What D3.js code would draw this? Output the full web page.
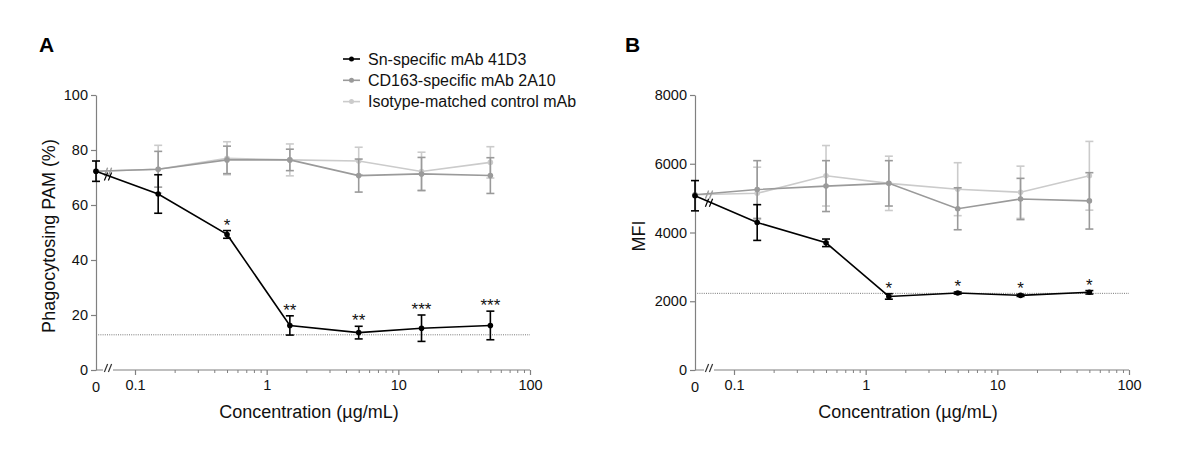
<!DOCTYPE html>
<html>
<head>
<meta charset="utf-8">
<script src="https://cdn.jsdelivr.net/npm/d3@7"></script>
<style>
  body { margin: 0; background: #fff; }
  text { font-family: "Liberation Sans", Arial, sans-serif; }
</style>
</head>
<body>
<div id="app"></div>
<script>
// concentrations (µg/mL); 0 is drawn at the broken start of the axis
const conc = [0, 0.15, 0.5, 1.5, 5, 15, 50];
const seriesNames = ['Sn-specific mAb 41D3', 'CD163-specific mAb 2A10', 'Isotype-matched control mAb'];
const xTickLabels = ['0.1', '1', '10', '100'];

// panel A: phagocytosing PAM (%)
const snA = [72.3, 64, 49.3, 16.2, 13.6, 15.2, 16.2];
const snAErr = [3.7, 7, 1.4, 3.5, 2.3, 4.8, 5.2];
const cdA = [72.3, 73, 76.4, 76.4, 70.7, 71.3, 70.7];
const cdAErr = [0, 6.5, 5, 3.9, 6, 6, 6.5];
const isoA = [72.3, 73, 77, 76.4, 76, 72.2, 75.5];
const isoAErr = [0, 8.7, 6, 5.8, 5, 7, 5.7];
const starsA = ['', '', '*', '**', '**', '***', '***'];
const refA = 12.8;
const yTicksA = [0, 20, 40, 60, 80, 100];

// panel B: MFI
const snB = [5070, 4290, 3700, 2140, 2240, 2170, 2260];
const snBErr = [440, 520, 110, 80, 30, 30, 50];
const cdB = [5100, 5250, 5350, 5430, 4690, 4975, 4920];
const cdBErr = [0, 840, 740, 660, 610, 600, 820];
const isoB = [5100, 5140, 5650, 5430, 5260, 5170, 5650];
const isoBErr = [0, 760, 880, 790, 770, 760, 1000];
const starsB = ['', '', '', '*', '*', '*', '*'];
const refB = 2230;
const yTicksB = [0, 2000, 4000, 6000, 8000];

const colors = ['#000000', '#9a9a9a', '#cbcbcb'];
const axisColor = '#808080';
const font = '"Liberation Sans", Arial, sans-serif';

const svg = d3.select('#app').append('svg')
    .attr('width', 1200).attr('height', 458);

function panel(opt) {
    const left = opt.left, top = 95, bottom = 370;
    const right = left + 434;
    const g = svg.append('g');

    const x = d3.scaleLog().domain([0.1, 100]).range([left + 39, right]);
    const y = d3.scaleLinear().domain([0, opt.yMax]).range([bottom, top]);
    const xp = c => c === 0 ? left : x(c);

    // dotted reference line
    g.append('line')
        .attr('x1', left).attr('x2', right)
        .attr('y1', y(opt.ref)).attr('y2', y(opt.ref))
        .attr('stroke', '#555').attr('stroke-width', 0.8)
        .attr('stroke-dasharray', '1,1.2');

    // y axis
    const yAxis = g.append('g')
        .attr('transform', `translate(${left},0)`)
        .call(d3.axisLeft(y).tickValues(opt.yTicks).tickSize(5).tickPadding(3)
            .tickSizeOuter(0).tickFormat(d3.format('d')));
    yAxis.select('.domain').attr('stroke', axisColor).attr('stroke-width', 1.2);
    yAxis.selectAll('.tick line').attr('stroke', axisColor).attr('stroke-width', 1.2);
    yAxis.selectAll('.tick text').attr('font-size', 14.5).attr('fill', '#111')
        .attr('font-family', font);

    // x axis: major + minor ticks on the log part
    g.append('line')
        .attr('x1', left).attr('x2', right)
        .attr('y1', bottom).attr('y2', bottom)
        .attr('stroke', axisColor).attr('stroke-width', 1.2);
    const minor = x.ticks().filter(v => !xTickLabels.includes(String(+v)));
    const xMinor = g.append('g')
        .attr('transform', `translate(0,${bottom})`)
        .call(d3.axisBottom(x).tickValues(minor).tickSize(3).tickFormat(''));
    xMinor.select('.domain').remove();
    xMinor.selectAll('.tick line').attr('stroke', axisColor);
    const xMajor = g.append('g')
        .attr('transform', `translate(0,${bottom})`)
        .call(d3.axisBottom(x).tickValues(xTickLabels.map(Number)).tickSize(5).tickPadding(5)
            .tickFormat((d, i) => xTickLabels[i]));
    xMajor.select('.domain').remove();
    xMajor.selectAll('.tick line').attr('stroke', axisColor).attr('stroke-width', 1.2);
    xMajor.selectAll('.tick text').attr('font-size', 14.5).attr('fill', '#111')
        .attr('font-family', font);
    g.append('text').attr('x', left).attr('y', bottom + 22)
        .attr('text-anchor', 'middle').attr('font-size', 14.5).attr('fill', '#111').text('0');

    // axis break marks
    const breakX = left + opt.breakDx;
    const slash = (cx, cy, col) => {
        [-2, 2].forEach(d => {
            g.append('line')
                .attr('x1', cx + d - 1.6).attr('y1', cy + 4)
                .attr('x2', cx + d + 1.6).attr('y2', cy - 4)
                .attr('stroke', col).attr('stroke-width', 1.2);
        });
    };
    g.append('rect').attr('x', breakX - 5).attr('y', bottom - 1.5).attr('width', 10).attr('height', 3).attr('fill', '#fff');
    slash(breakX, bottom - 2, '#333');

    // series, drawn light to dark
    const series = [
        { v: opt.iso, e: opt.isoErr, c: colors[2] },
        { v: opt.cd, e: opt.cdErr, c: colors[1] },
        { v: opt.sn, e: opt.snErr, c: colors[0] }
    ];
    const line = d3.line().x((d, i) => xp(conc[i])).y(d => y(d));
    series.forEach(s => {
        const sg = g.append('g');
        // error bars
        s.v.forEach((v, i) => {
            if (!s.e[i]) return;
            const cx = xp(conc[i]);
            const y1 = y(v + s.e[i]), y2 = y(v - s.e[i]);
            sg.append('line').attr('x1', cx).attr('x2', cx).attr('y1', y1).attr('y2', y2)
                .attr('stroke', s.c).attr('stroke-width', 1.6);
            [y1, y2].forEach(yy => sg.append('line')
                .attr('x1', cx - 4).attr('x2', cx + 4).attr('y1', yy).attr('y2', yy)
                .attr('stroke', s.c).attr('stroke-width', 1.6));
        });
        sg.append('path').datum(s.v).attr('d', line)
            .attr('fill', 'none').attr('stroke', s.c).attr('stroke-width', 1.6);
        sg.selectAll('circle').data(s.v).join('circle')
            .attr('cx', (d, i) => xp(conc[i])).attr('cy', d => y(d))
            .attr('r', 2.8).attr('fill', s.c);
        // break mark on the line between 0 and the first concentration
        const x0 = xp(conc[0]), x1 = xp(conc[1]);
        const t = (breakX - x0) / (x1 - x0);
        const by = y(s.v[0]) + t * (y(s.v[1]) - y(s.v[0]));
        slash(breakX, by + 1, s.c);
    });

    // significance stars
    g.selectAll('text.star').data(opt.stars).join('text')
        .attr('class', 'star')
        .attr('x', (d, i) => xp(conc[i]))
        .attr('y', (d, i) => y(opt.sn[i] + opt.snErr[i]))
        .attr('text-anchor', 'middle').attr('font-size', 17).attr('fill', '#111')
        .text(d => d);

    // titles
    g.append('text')
        .attr('transform', `translate(${opt.yTitleX},236) rotate(-90)`)
        .attr('text-anchor', 'middle').attr('font-size', 18).attr('fill', '#111')
        .text(opt.yTitle);
    g.append('text')
        .attr('x', (left + right) / 2 - 4).attr('y', 418)
        .attr('text-anchor', 'middle').attr('font-size', 18).attr('fill', '#111')
        .text('Concentration (µg/mL)');
    g.append('text')
        .attr('x', opt.labelX).attr('y', 52)
        .attr('font-size', 21).attr('font-weight', 'bold').attr('fill', '#000')
        .text(opt.label);
}

panel({ left: 96, yMax: 100, yTicks: yTicksA, ref: refA, breakDx: 12,
    sn: snA, snErr: snAErr, cd: cdA, cdErr: cdAErr, iso: isoA, isoErr: isoAErr,
    stars: starsA, yTitle: 'Phagocytosing PAM (%)', yTitleX: 55, label: 'A', labelX: 39 });
panel({ left: 695, yMax: 8000, yTicks: yTicksB, ref: refB, breakDx: 14,
    sn: snB, snErr: snBErr, cd: cdB, cdErr: cdBErr, iso: isoB, isoErr: isoBErr,
    stars: starsB, yTitle: 'MFI', yTitleX: 645, label: 'B', labelX: 625 });

// legend
const legend = svg.append('g');
seriesNames.forEach((name, i) => {
    const ly = 59 + i * 21.3;
    legend.append('line').attr('x1', 343).attr('x2', 360).attr('y1', ly).attr('y2', ly)
        .attr('stroke', colors[i]).attr('stroke-width', 1.6);
    legend.append('circle').attr('cx', 351.5).attr('cy', ly).attr('r', 2.5).attr('fill', colors[i]);
    legend.append('text').attr('x', 368).attr('y', ly + 5.5)
        .attr('font-size', 16).attr('fill', '#111').text(name);
});
</script>
</body>
</html>
